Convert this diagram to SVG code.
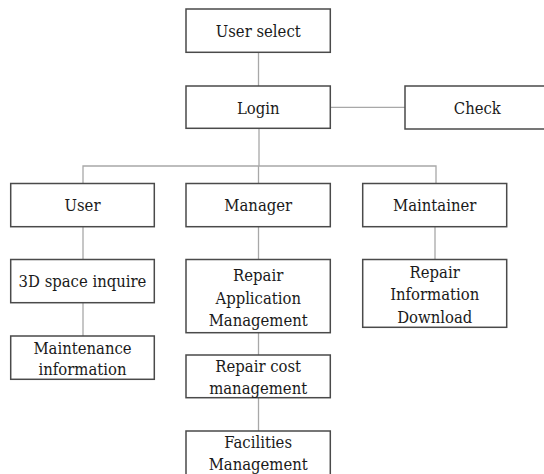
<svg xmlns="http://www.w3.org/2000/svg" width="544" height="474" viewBox="0 0 544 474">
<style>
.box{fill:#fff;stroke:#4a4a4a;stroke-width:1.5}
text{font-family:'DejaVu Serif Condensed','DejaVu Serif',serif;font-stretch:condensed;font-size:16.5px;fill:#1a1a1a;text-anchor:middle}
.c{stroke:#a8a8a8;stroke-width:1.3;fill:none}
</style>
<rect width="544" height="474" fill="#fff"/>
<g id="connectors">
<line class="c" x1="258.5" y1="52" x2="258.5" y2="86"/>
<line class="c" x1="330" y1="107.3" x2="405" y2="107.3"/>
<line class="c" x1="259" y1="128" x2="259" y2="166"/>
<polyline class="c" points="83,183.5 83,166 436,166 436,183.5"/>
<line class="c" x1="258.5" y1="166" x2="258.5" y2="183.5"/>
<line class="c" x1="83" y1="227" x2="83" y2="259.5"/>
<line class="c" x1="258.5" y1="227" x2="258.5" y2="259.5"/>
<line class="c" x1="435" y1="227" x2="435" y2="259.5"/>
<line class="c" x1="83" y1="303" x2="83" y2="336"/>
<line class="c" x1="258.5" y1="333" x2="258.5" y2="355"/>
<line class="c" x1="258.5" y1="398" x2="258.5" y2="431"/>
</g>
<g id="user-select"><rect class="box" x="186" y="9" width="144.3" height="43.3"/><text x="258.2" y="37">User select</text></g>
<g id="login"><rect class="box" x="186" y="86" width="144.3" height="42.3"/><text x="258.2" y="113.5">Login</text></g>
<g id="check"><rect class="box" x="405" y="86" width="144" height="43"/><text x="477.3" y="113.5">Check</text></g>
<g id="user"><rect class="box" x="10.7" y="183.5" width="143.6" height="43.2"/><text x="82.5" y="211">User</text></g>
<g id="manager"><rect class="box" x="186" y="183.5" width="144.3" height="43.2"/><text x="258.2" y="211">Manager</text></g>
<g id="maintainer"><rect class="box" x="362.7" y="183.5" width="144" height="43.2"/><text x="434.7" y="211">Maintainer</text></g>
<g id="space-inquire"><rect class="box" x="10.7" y="259.5" width="143.6" height="43.2"/><text x="82.5" y="287">3D space inquire</text></g>
<g id="repair-application"><rect class="box" x="186" y="259.5" width="144.3" height="73.2"/><text x="258.2" y="281.2">Repair</text><text x="258.2" y="303.5">Application</text><text x="258.2" y="325.8">Management</text></g>
<g id="repair-information"><rect class="box" x="362.7" y="259.5" width="144" height="67.8"/><text x="434.7" y="277.8">Repair</text><text x="434.7" y="300.2">Information</text><text x="434.7" y="322.7">Download</text></g>
<g id="maintenance-information"><rect class="box" x="10.7" y="336" width="143.6" height="43.3"/><text x="82.5" y="353.5">Maintenance</text><text x="82.5" y="375">information</text></g>
<g id="repair-cost"><rect class="box" x="186" y="355" width="144.3" height="42.7"/><text x="258.2" y="372.2">Repair cost</text><text x="258.2" y="393.8">management</text></g>
<g id="facilities"><rect class="box" x="186" y="431" width="144.3" height="46"/><text x="258.2" y="448">Facilities</text><text x="258.2" y="470.3">Management</text></g>
</svg>
